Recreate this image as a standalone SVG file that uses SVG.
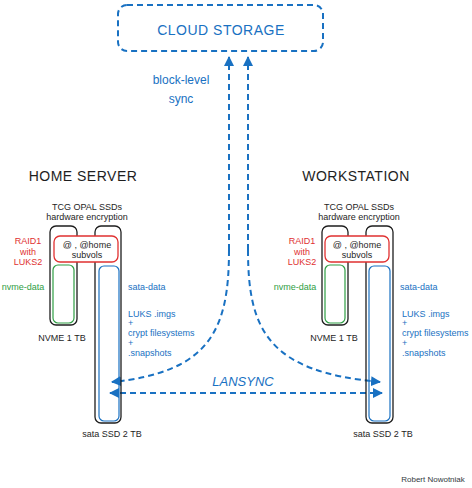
<svg xmlns="http://www.w3.org/2000/svg" width="472" height="488" viewBox="0 0 472 488">
<style>
text{font-family:"Liberation Sans","DejaVu Sans",sans-serif;}
.t{font-size:9px;fill:#1e1e1e;text-anchor:middle;}
.l{font-size:9px;fill:#1971c2;text-anchor:start;}
.title{font-size:14px;fill:#1e1e1e;text-anchor:middle;letter-spacing:0.5px;}
.blue{fill:#1971c2;}
.red{fill:#e03131;}
.green{fill:#2f9e44;}
.disk{fill:none;stroke:#1e1e1e;stroke-width:1.3;}
.conn{fill:none;stroke:#1971c2;stroke-width:2;stroke-dasharray:6 4;}
</style>
<defs>
<marker id="ah" viewBox="0 0 10 10" refX="9" refY="5" markerWidth="5" markerHeight="5" orient="auto-start-reverse" markerUnits="strokeWidth">
<path d="M0,0 L10,5 L0,10 z" fill="#1971c2"/>
</marker>
</defs>
<rect width="472" height="488" fill="#ffffff"/>

<g id="cloud">
<rect x="118" y="5" width="205" height="46" rx="9" fill="none" stroke="#1971c2" stroke-width="2" stroke-dasharray="6 4"/>
<text x="221" y="35" font-size="14" class="blue" text-anchor="middle" letter-spacing="0.5">CLOUD STORAGE</text>
</g>

<g id="connectors">
<path class="conn" d="M229,250 L229,57" marker-end="url(#ah)"/>
<path class="conn" d="M229,250 C229,330 210,372 112,382" marker-end="url(#ah)"/>
<path class="conn" d="M248,250 L248,57" marker-end="url(#ah)"/>
<path class="conn" d="M248,250 C248,330 268,372 380,382" marker-end="url(#ah)"/>
<path class="conn" d="M110,393 L382,393" marker-start="url(#ah)" marker-end="url(#ah)"/>
<text x="181" y="84" font-size="12" class="blue" text-anchor="middle">block-level</text>
<text x="181" y="103" font-size="12" class="blue" text-anchor="middle">sync</text>
<text x="243" y="386" font-size="13" class="blue" text-anchor="middle" font-style="italic">LANSYNC</text>
</g>

<g id="home-server">
<text x="83" y="181" class="title">HOME SERVER</text>
<text x="87" y="210" class="t">TCG OPAL SSDs</text>
<text x="87" y="220" class="t">hardware encryption</text>
<rect class="disk" x="50" y="226" width="27" height="99" rx="6"/>
<rect class="disk" x="95" y="226" width="26" height="197" rx="6"/>
<rect x="53" y="265" width="21" height="58" rx="5" fill="none" stroke="#2f9e44" stroke-width="1.2"/>
<rect x="99" y="266" width="20" height="155" rx="5" fill="none" stroke="#1971c2" stroke-width="1.2"/>
<rect x="54" y="236" width="64" height="26" rx="6" fill="#ffffff" stroke="#e03131" stroke-width="1.3"/>
<text x="87" y="248" class="t">@ , @home</text>
<text x="87" y="258" class="t">subvols</text>
<text x="28" y="244" class="t red">RAID1</text>
<text x="28" y="255" class="t red">with</text>
<text x="28" y="265" class="t red">LUKS2</text>
<text x="23" y="290" class="t green">nvme-data</text>
<text x="128" y="290" class="l">sata-data</text>
<text x="128" y="317" class="l">LUKS .imgs</text>
<text x="128" y="326" class="l">+</text>
<text x="128" y="336" class="l">crypt filesystems</text>
<text x="128" y="346" class="l">+</text>
<text x="128" y="356" class="l">.snapshots</text>
<text x="62" y="341" class="t">NVME 1 TB</text>
<text x="112" y="437" class="t">sata SSD 2 TB</text>
</g>

<g id="workstation">
<text x="356" y="181" class="title">WORKSTATION</text>
<text x="359" y="210" class="t">TCG OPAL SSDs</text>
<text x="359" y="220" class="t">hardware encryption</text>
<rect class="disk" x="322" y="226" width="26" height="99" rx="6"/>
<rect class="disk" x="366" y="226" width="27" height="197" rx="6"/>
<rect x="325" y="265" width="20" height="58" rx="5" fill="none" stroke="#2f9e44" stroke-width="1.2"/>
<rect x="369" y="266" width="21" height="155" rx="5" fill="none" stroke="#1971c2" stroke-width="1.2"/>
<rect x="325" y="236" width="64" height="26" rx="6" fill="#ffffff" stroke="#e03131" stroke-width="1.3"/>
<text x="357" y="248" class="t">@ , @home</text>
<text x="357" y="258" class="t">subvols</text>
<text x="302" y="244" class="t red">RAID1</text>
<text x="302" y="255" class="t red">with</text>
<text x="302" y="265" class="t red">LUKS2</text>
<text x="295" y="290" class="t green">nvme-data</text>
<text x="400" y="290" class="l">sata-data</text>
<text x="402" y="317" class="l">LUKS .imgs</text>
<text x="402" y="326" class="l">+</text>
<text x="402" y="336" class="l">crypt filesystems</text>
<text x="402" y="346" class="l">+</text>
<text x="402" y="356" class="l">.snapshots</text>
<text x="334" y="341" class="t">NVME 1 TB</text>
<text x="383" y="437" class="t">sata SSD 2 TB</text>
</g>

<text x="433" y="482" font-size="8" fill="#343a40" text-anchor="middle">Robert Nowotniak</text>
</svg>
